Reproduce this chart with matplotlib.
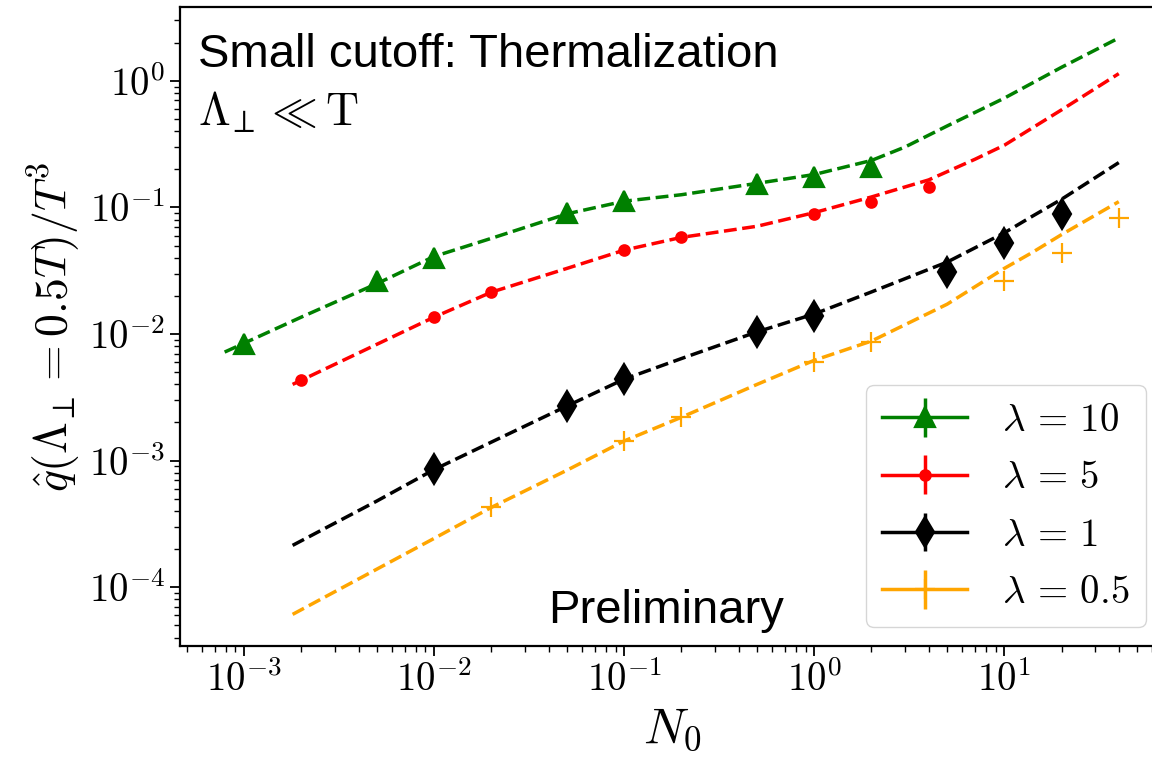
import numpy as np
import matplotlib
matplotlib.use("Agg")
import matplotlib.pyplot as plt
from matplotlib.ticker import FuncFormatter, NullFormatter

plt.rcParams['mathtext.fontset'] = 'cm'

# data points (N0, qhat/T^3)
x10 = [1e-3, 5e-3, 1e-2, 5e-2, 0.1, 0.5, 1, 2]
y10 = [0.0083, 0.026, 0.040, 0.090, 0.112, 0.153, 0.175, 0.21]
x5 = [2e-3, 1e-2, 2e-2, 0.1, 0.2, 1, 2, 4]
y5 = [0.0043, 0.0136, 0.0214, 0.046, 0.058, 0.088, 0.11, 0.146]
x1 = [1e-2, 5e-2, 0.1, 0.5, 1, 5, 10, 20]
y1 = [8.6e-4, 0.0027, 0.0044, 0.0104, 0.0139, 0.031, 0.052, 0.089]
x05 = [2e-2, 0.1, 0.2, 1, 2, 10, 20, 40]
y05 = [4.3e-4, 1.43e-3, 2.2e-3, 0.006, 0.0087, 0.026, 0.044, 0.083]

# dashed fit curves
fx10 = [7.9e-4, 2e-3, 5e-3, 1e-2, 2e-2, 5e-2, 0.1, 0.2, 0.5, 1, 2, 3, 5, 10, 20, 40]
fy10 = [0.0072, 0.0136, 0.025, 0.041, 0.057, 0.089, 0.112, 0.126, 0.155, 0.182,
        0.235, 0.30, 0.44, 0.73, 1.28, 2.18]
fx5 = [1.8e-3, 5e-3, 1e-2, 2e-2, 5e-2, 0.1, 0.2, 0.5, 1, 2, 4, 7, 10, 20, 40]
fy5 = [0.0040, 0.0083, 0.0136, 0.0214, 0.033, 0.046, 0.058, 0.071, 0.091, 0.121,
       0.165, 0.24, 0.31, 0.59, 1.14]
fx1 = [1.8e-3, 5e-3, 1e-2, 2e-2, 5e-2, 0.1, 0.2, 0.5, 1, 2, 5, 10, 14, 20, 40]
fy1 = [2.14e-4, 4.8e-4, 8.5e-4, 1.4e-3, 0.0027, 0.0044, 0.0064, 0.0104, 0.0144,
       0.0215, 0.037, 0.063, 0.085, 0.116, 0.226]
fx05 = [1.8e-3, 5e-3, 1e-2, 2e-2, 5e-2, 0.1, 0.2, 0.5, 1, 2, 5, 10, 14, 20, 40]
fy05 = [6.1e-5, 1.39e-4, 2.43e-4, 4.27e-4, 8.4e-4, 1.43e-3, 2.2e-3, 0.004, 0.0062,
        0.0088, 0.0172, 0.033, 0.044, 0.061, 0.111]

labels = [r'$\lambda\,=\,10$', r'$\lambda\,=\,5$', r'$\lambda\,=\,1$', r'$\lambda\,=\,0.5$']
colors = ['green', 'red', 'black', 'orange']
markers = ['^', '.', 'd', '+']

fig = plt.figure(figsize=(11.52, 7.62), dpi=100)
ax = fig.add_axes([0.15625, 0.1522, 0.855, 0.8386])

series = [(x10, y10, fx10, fy10), (x5, y5, fx5, fy5),
          (x1, y1, fx1, fy1), (x05, y05, fx05, fy05)]
handles = []
for (xd, yd, xf, yf), c, m, lab in zip(series, colors, markers, labels):
    ax.plot(xf, yf, '--', color=c, lw=2.5)
    ax.plot(xd, yd, marker=m, color=c, ms=15, mew=1.6, ls='none')
    h = ax.errorbar([np.nan], [np.nan], yerr=[np.nan], marker=m, linestyle='-',
                    color=c, ms=15, mew=1.6, lw=2.5, elinewidth=2.5, label=lab)
    handles.append(h)

ax.set_xscale('log')
ax.set_yscale('log')
ax.set_xlim(4.6e-4, 70)
ax.set_ylim(3.43e-5, 3.83)

decade = FuncFormatter(lambda v, pos: r'$10^{%d}$' % round(np.log10(v)))
for a in (ax.xaxis, ax.yaxis):
    a.set_major_formatter(decade)
    a.set_minor_formatter(NullFormatter())

ax.tick_params(which='major', labelsize=28, length=7, width=1.3)
ax.tick_params(which='minor', length=4, width=1.0)
for s in ax.spines.values():
    s.set_linewidth(1.6)

ax.set_xlabel(r'$N_0$', fontsize=36)
ax.set_ylabel(r'$\hat{q}(\Lambda_{\!\perp} = 0.5T)/T^3$', fontsize=33)

ax.legend(handles=handles, loc='lower right', fontsize=28,
          handlelength=2.2, handletextpad=0.9)

fig.text(0.172, 0.912, 'Small cutoff: Thermalization', fontsize=34,
         family='Liberation Sans', va='baseline')
fig.text(0.172, 0.836, r'$\Lambda_{\!\perp} \ll \mathrm{T}$', fontsize=33, va='baseline')
fig.text(0.4757, 0.1824, 'Preliminary', fontsize=34,
         family='Liberation Sans', va='baseline')

fig.savefig('out.png', dpi=100)
